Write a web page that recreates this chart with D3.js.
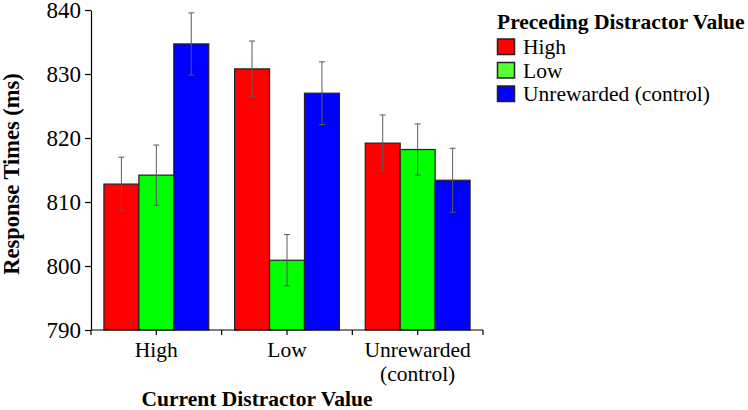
<!DOCTYPE html>
<html>
<head>
<meta charset="utf-8">
<script src="https://cdn.jsdelivr.net/npm/d3@7"></script>
<style>
  html, body { margin: 0; padding: 0; background: #fff; }
  svg { display: block; }
</style>
</head>
<body>
<svg id="chart" width="748" height="410"></svg>
<script>
// ---- data ----
const categories = ["High", "Low", "Unrewarded (control)"];
const categoryLines = [["High"], ["Low"], ["Unrewarded", "(control)"]];
const seriesNames = ["High", "Low", "Unrewarded (control)"];
const valuesHigh = [812.8, 830.8, 819.2];
const valuesLow = [814.2, 800.9, 818.2];
const valuesUnrewarded = [834.7, 827.0, 813.4];
const errHigh = [4.2, 4.35, 4.4];
const errLow = [4.7, 4.0, 4.0];
const errUnrewarded = [4.85, 4.9, 5.0];
const yTicks = [790, 800, 810, 820, 830, 840];
const barColors = ["#ff0000", "#00ff00", "#0000ff"];
const legendColors = ["#ff0000", "#55ff33", "#0000ff"];

const seriesValues = [valuesHigh, valuesLow, valuesUnrewarded];
const seriesErrs = [errHigh, errLow, errUnrewarded];
const FONT = "Liberation Serif";

const svg = d3.select("#chart");
const mLeft = 91, mRight = 483, mTop = 10, mBottom = 330;

const y = d3.scaleLinear().domain([790, 840]).range([mBottom, mTop]);
const x0 = d3.scaleBand().domain(categories).range([mLeft, mRight]).paddingInner(0).paddingOuter(0);
const x1 = d3.scaleBand().domain(seriesNames).range([0, x0.bandwidth()]).paddingInner(0).paddingOuter(0.37);

const rows = [];
categories.forEach((c, ci) => {
  seriesNames.forEach((s, si) => {
    rows.push({ c, s, si, v: seriesValues[si][ci], e: seriesErrs[si][ci] });
  });
});

// bars
svg.append("g").selectAll("rect").data(rows).join("rect")
  .attr("x", d => x0(d.c) + x1(d.s))
  .attr("y", d => y(d.v))
  .attr("width", x1.bandwidth())
  .attr("height", d => y(790) - y(d.v))
  .attr("fill", d => barColors[d.si])
  .attr("stroke", "#222")
  .attr("stroke-width", 1.2);

// error bars
const eb = svg.append("g").attr("stroke", "#5a5a5a").attr("stroke-width", 1).attr("fill", "none");
rows.forEach(d => {
  const cx = x0(d.c) + x1(d.s) + x1.bandwidth() / 2;
  const y1 = y(d.v + d.e), y2 = y(d.v - d.e);
  eb.append("line").attr("x1", cx).attr("x2", cx).attr("y1", y1).attr("y2", y2);
  eb.append("line").attr("x1", cx - 3).attr("x2", cx + 3).attr("y1", y1).attr("y2", y1);
  eb.append("line").attr("x1", cx - 3).attr("x2", cx + 3).attr("y1", y2).attr("y2", y2);
});

// y axis
const yAxis = svg.append("g").attr("transform", `translate(${mLeft},0)`)
  .call(d3.axisLeft(y).tickValues(yTicks).tickSize(6).tickPadding(4).tickSizeOuter(0).tickFormat(d3.format("d")));
yAxis.attr("font-family", FONT).attr("font-size", 23);
yAxis.select(".domain").attr("stroke", "#000").attr("stroke-width", 1.2);
yAxis.selectAll(".tick line").attr("stroke", "#000").attr("stroke-width", 1.2);
yAxis.selectAll(".tick text").attr("font-size", 23).attr("fill", "#000").attr("font-family", FONT);

// x axis
const xg = svg.append("g").attr("transform", `translate(0,${mBottom})`);
xg.append("line").attr("x1", mLeft).attr("x2", mRight).attr("y1", 0).attr("y2", 0)
  .attr("stroke", "#000").attr("stroke-width", 1.2);
const tickXs = [];
categories.forEach(c => { tickXs.push(x0(c)); tickXs.push(x0(c) + x0.bandwidth() / 2); });
tickXs.push(mRight);
xg.selectAll("line.tk").data(tickXs).join("line").attr("class", "tk")
  .attr("x1", d => d).attr("x2", d => d).attr("y1", 0).attr("y2", 5)
  .attr("stroke", "#000").attr("stroke-width", 1.2);
categories.forEach((c, ci) => {
  const t = xg.append("text")
    .attr("x", x0(c) + x0.bandwidth() / 2)
    .attr("y", 27)
    .attr("text-anchor", "middle")
    .attr("font-family", FONT)
    .attr("font-size", 21.5)
    .attr("fill", "#000");
  categoryLines[ci].forEach((ln, li) => {
    t.append("tspan").attr("x", x0(c) + x0.bandwidth() / 2).attr("dy", li === 0 ? 0 : 24).text(ln);
  });
});

// axis titles
svg.append("text")
  .attr("transform", "translate(19,174) rotate(-90)")
  .attr("text-anchor", "middle")
  .attr("font-family", FONT)
  .attr("font-size", 22.5)
  .attr("font-weight", "bold")
  .attr("fill", "#000")
  .text("Response Times (ms)");

svg.append("text")
  .attr("x", 257).attr("y", 406)
  .attr("text-anchor", "middle")
  .attr("font-family", FONT)
  .attr("font-size", 21.5)
  .attr("font-weight", "bold")
  .attr("fill", "#000")
  .text("Current Distractor Value");

// legend
const lg = svg.append("g").attr("transform", "translate(497,0)");
lg.append("text").attr("x", 0).attr("y", 29)
  .attr("font-family", FONT)
  .attr("font-size", 21.5).attr("font-weight", "bold").attr("fill", "#000")
  .text("Preceding Distractor Value");
seriesNames.forEach((s, i) => {
  const yy = 39 + i * 23.5;
  lg.append("rect").attr("x", 0.5).attr("y", yy).attr("width", 17).attr("height", 15.5)
    .attr("fill", legendColors[i]).attr("stroke", "#222").attr("stroke-width", 1.5);
  lg.append("text").attr("x", 26).attr("y", yy + 15)
    .attr("font-family", FONT)
    .attr("font-size", 21.5).attr("fill", "#000").text(s);
});
</script>
</body>
</html>
